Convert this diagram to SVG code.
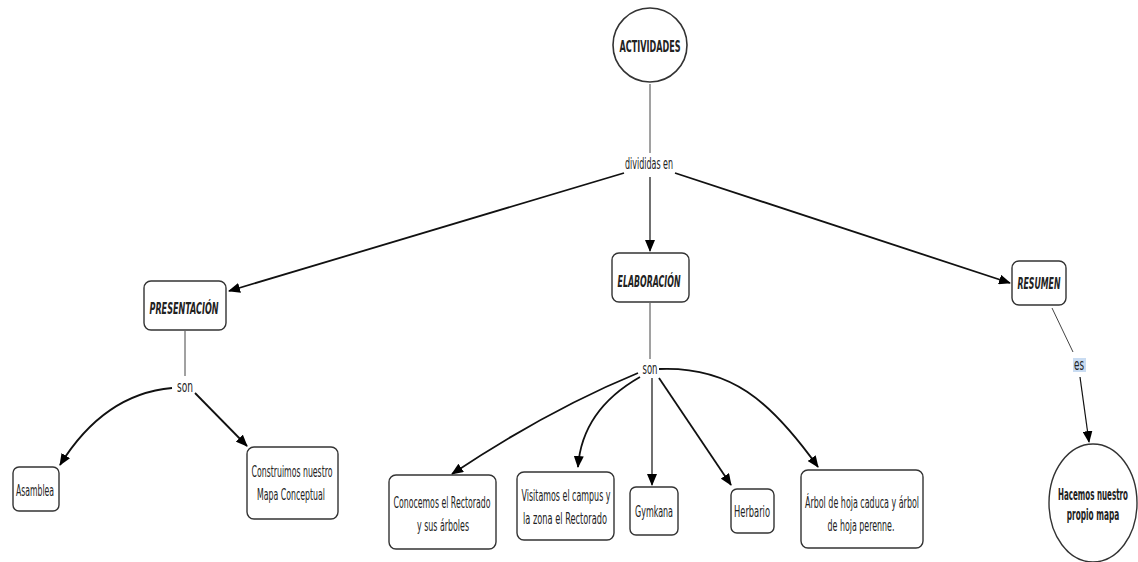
<svg xmlns="http://www.w3.org/2000/svg" width="1138" height="562" viewBox="0 0 1138 562">
<defs>
<marker id="ah" markerUnits="userSpaceOnUse" markerWidth="12" markerHeight="10" refX="11" refY="5" orient="auto">
<path d="M0,0 L12,5 L0,10 Z" fill="#000"/>
</marker>
<style>
.node{fill:#fff;stroke:#333;stroke-width:1.4}
.t{font-family:"DejaVu Sans Condensed","DejaVu Sans",sans-serif;font-size:16px;fill:#222;text-anchor:middle}
.b{font-weight:bold}
.bi{font-weight:bold;font-style:italic}
.thin{stroke:#444;stroke-width:1;fill:none}
.arr{stroke:#111;stroke-width:1.8;fill:none;marker-end:url(#ah)}
</style>
</defs>
<rect width="1138" height="562" fill="#fff"/>
<g id="connectors">
<line class="thin" x1="650" y1="84" x2="650" y2="153"/>
<line class="arr" x1="624" y1="173" x2="229" y2="291"/>
<line class="arr" x1="650" y1="177" x2="650" y2="251" style="stroke-width:1.2"/>
<line class="arr" x1="675" y1="173" x2="1010" y2="283"/>
<line class="thin" x1="185" y1="331" x2="185" y2="376"/>
<path class="arr" d="M172,388 Q104,394 60,465"/>
<line class="arr" x1="195" y1="393" x2="247" y2="446"/>
<line class="thin" x1="650" y1="303" x2="650" y2="359"/>
<path class="arr" d="M638,373 Q548,410 452,474"/>
<path class="arr" d="M640,377 Q582,410 578,467"/>
<line class="arr" x1="652" y1="378" x2="652" y2="485" style="stroke-width:1.2"/>
<line class="arr" x1="659" y1="378" x2="731" y2="485"/>
<path class="arr" d="M659,369 C730,366 770,400 818,467"/>
<line class="thin" x1="1052" y1="308" x2="1073" y2="352"/>
<line class="arr" x1="1080" y1="377" x2="1089" y2="442" style="stroke-width:1.2"/>
</g>
<g id="actividades">
<circle class="node" cx="650" cy="45" r="37" style="stroke-width:1.6"/>
<text class="t b" transform="translate(650,52) scale(0.7,1)" font-size="18" textLength="87.1" lengthAdjust="spacingAndGlyphs">ACTIVIDADES</text>
</g>
<g id="divididas">
<text class="t" transform="translate(649,169) scale(0.7,1)" textLength="68.6" lengthAdjust="spacingAndGlyphs">divididas en</text>
</g>
<g id="presentacion">
<rect class="node" x="144" y="281" width="82" height="49" rx="7"/>
<text class="t bi" transform="translate(184,314) scale(0.7,1)" font-size="17" textLength="98.6" lengthAdjust="spacingAndGlyphs">PRESENTACIÓN</text>
</g>
<g id="elaboracion">
<rect class="node" x="612" y="253" width="77" height="49" rx="7"/>
<text class="t bi" transform="translate(649,287) scale(0.7,1)" font-size="17" textLength="90" lengthAdjust="spacingAndGlyphs">ELABORACIÓN</text>
</g>
<g id="resumen">
<rect class="node" x="1012" y="261" width="54" height="44" rx="7"/>
<text class="t bi" transform="translate(1039,289) scale(0.7,1)" font-size="17" textLength="61.4" lengthAdjust="spacingAndGlyphs">RESUMEN</text>
</g>
<g id="son1">
<text class="t" transform="translate(185,392) scale(0.7,1)" textLength="22.9" lengthAdjust="spacingAndGlyphs">son</text>
</g>
<g id="asamblea">
<rect class="node" x="13" y="467" width="46" height="44" rx="6"/>
<text class="t" transform="translate(35,496) scale(0.7,1)" textLength="54.3" lengthAdjust="spacingAndGlyphs">Asamblea</text>
</g>
<g id="construimos">
<rect class="node" x="247" y="447" width="91" height="72" rx="7"/>
<text class="t" transform="translate(292,477) scale(0.7,1)" textLength="115.7" lengthAdjust="spacingAndGlyphs">Construimos nuestro</text>
<text class="t" transform="translate(291,500) scale(0.7,1)" textLength="97.1" lengthAdjust="spacingAndGlyphs">Mapa Conceptual</text>
</g>
<g id="son2">
<text class="t" transform="translate(650,374) scale(0.7,1)" textLength="21.4" lengthAdjust="spacingAndGlyphs">son</text>
</g>
<g id="conocemos">
<rect class="node" x="389" y="475" width="107" height="74" rx="7"/>
<text class="t" transform="translate(442,508) scale(0.7,1)" textLength="138.6" lengthAdjust="spacingAndGlyphs">Conocemos el Rectorado</text>
<text class="t" transform="translate(443,531) scale(0.7,1)" textLength="74.3" lengthAdjust="spacingAndGlyphs">y sus árboles</text>
</g>
<g id="visitamos">
<rect class="node" x="517" y="472" width="97" height="68" rx="7"/>
<text class="t" transform="translate(566,501) scale(0.7,1)" textLength="127.1" lengthAdjust="spacingAndGlyphs">Visitamos el campus y</text>
<text class="t" transform="translate(565,524) scale(0.7,1)" textLength="120" lengthAdjust="spacingAndGlyphs">la zona el Rectorado</text>
</g>
<g id="gymkana">
<rect class="node" x="630" y="487" width="48" height="48" rx="6"/>
<text class="t" transform="translate(654,517) scale(0.7,1)" textLength="54.3" lengthAdjust="spacingAndGlyphs">Gymkana</text>
</g>
<g id="herbario">
<rect class="node" x="731" y="489" width="43" height="44" rx="6"/>
<text class="t" transform="translate(752,517) scale(0.7,1)" textLength="51.4" lengthAdjust="spacingAndGlyphs">Herbario</text>
</g>
<g id="arbol">
<rect class="node" x="801" y="470" width="122" height="78" rx="7"/>
<text class="t" transform="translate(862,508) scale(0.7,1)" textLength="162.9" lengthAdjust="spacingAndGlyphs">Árbol de hoja caduca y árbol</text>
<text class="t" transform="translate(861,531) scale(0.7,1)" textLength="95.7" lengthAdjust="spacingAndGlyphs">de hoja perenne.</text>
</g>
<g id="es">
<rect x="1073" y="358" width="13" height="14" fill="#c9dcf2"/>
<text class="t" transform="translate(1079,370) scale(0.7,1)" font-size="14" textLength="14.3" lengthAdjust="spacingAndGlyphs" fill="#1a3a6a">es</text>
</g>
<g id="hacemos">
<ellipse class="node" cx="1093" cy="503" rx="44" ry="59"/>
<text class="t b" transform="translate(1093,500) scale(0.7,1)" font-size="16" textLength="100" lengthAdjust="spacingAndGlyphs">Hacemos nuestro</text>
<text class="t b" transform="translate(1093,520) scale(0.7,1)" font-size="16" textLength="75" lengthAdjust="spacingAndGlyphs">propio mapa</text>
</g>
</svg>
